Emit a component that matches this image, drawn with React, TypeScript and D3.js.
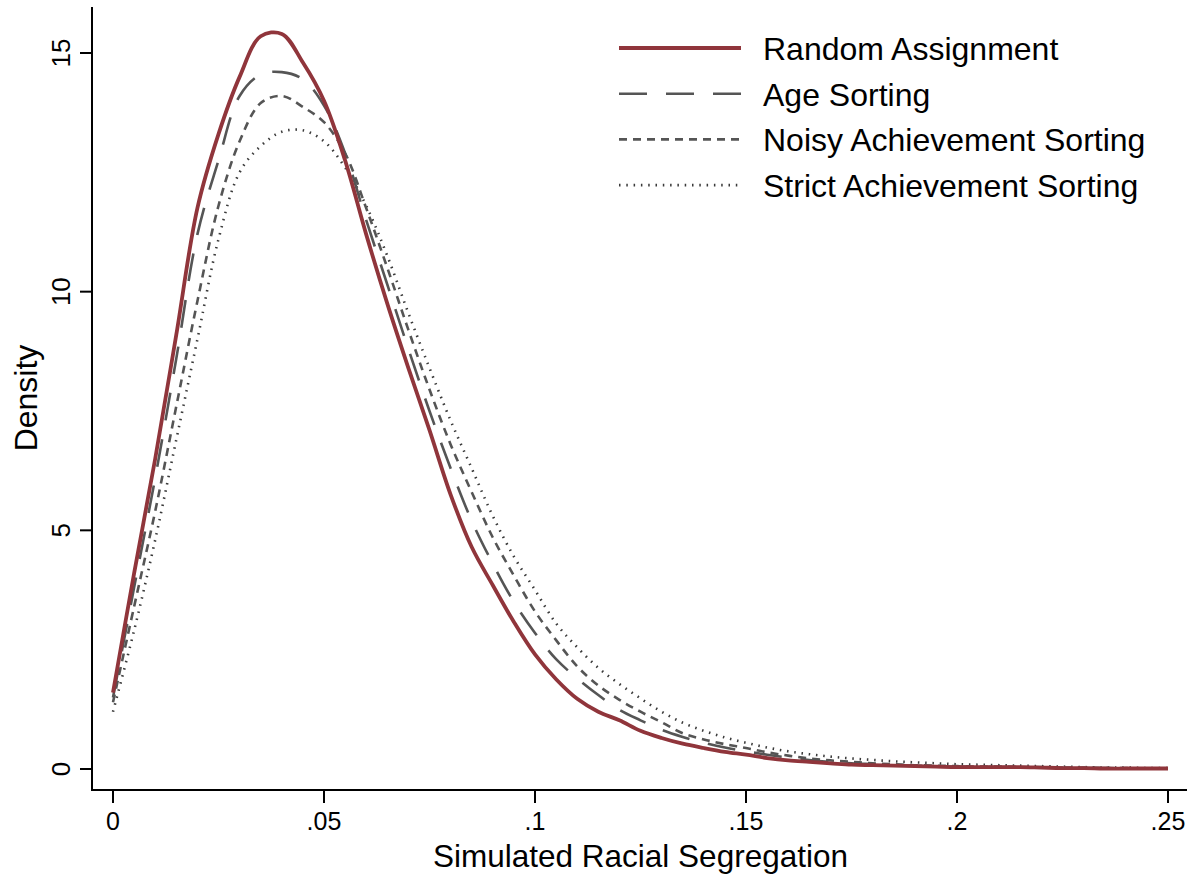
import React from 'react';
import * as d3 from 'd3';

const xs = d3.range(0, 51).map((i) => i * 0.005);

const randomAssign = [
	1.6, 4.1, 6.5, 9.1, 11.75, 13.3, 14.5, 15.35, 15.4, 14.8,
	14.0, 12.75, 11.2, 9.75, 8.4, 7.1, 5.75, 4.65, 3.85, 3.08,
	2.4, 1.88, 1.47, 1.2, 1.02, 0.8, 0.65, 0.53, 0.44, 0.36,
	0.3, 0.23, 0.18, 0.15, 0.12, 0.09, 0.08, 0.07, 0.06, 0.05,
	0.04, 0.04, 0.04, 0.04, 0.03, 0.02, 0.02, 0.01, 0.01, 0.01, 0.01
];
const ageSorting = [
	1.5, 3.8, 6.1, 8.6, 11.2, 12.75, 14.1, 14.55, 14.6, 14.45,
	13.9, 12.9, 11.5, 10.15, 8.8, 7.5, 6.3, 5.2, 4.3, 3.5,
	2.85, 2.3, 1.9, 1.55, 1.24, 1.02, 0.82, 0.67, 0.55, 0.45,
	0.37, 0.3, 0.24, 0.19, 0.15, 0.12, 0.1, 0.08, 0.07, 0.06,
	0.05, 0.05, 0.04, 0.04, 0.03, 0.03, 0.02, 0.02, 0.01, 0.01, 0.01
];
const noisySorting = [
	1.4, 3.4, 5.4, 7.6, 9.8, 11.8, 13.15, 13.95, 14.1, 13.87,
	13.55, 12.9, 11.75, 10.5, 9.2, 7.95, 6.8, 5.8, 4.85, 4.05,
	3.3, 2.7, 2.15, 1.75, 1.45, 1.2, 0.98, 0.75, 0.62, 0.52,
	0.44, 0.35, 0.28, 0.22, 0.18, 0.15, 0.12, 0.1, 0.08, 0.07,
	0.06, 0.05, 0.05, 0.04, 0.04, 0.03, 0.03, 0.02, 0.02, 0.01, 0.01
];
const strictSorting = [
	1.2, 2.9, 4.8, 6.9, 9.0, 11.1, 12.5, 13.05, 13.35, 13.38,
	13.15, 12.6, 11.8, 10.75, 9.55, 8.4, 7.3, 6.3, 5.3, 4.45,
	3.75, 3.05, 2.55, 2.12, 1.78, 1.48, 1.2, 0.97, 0.8, 0.66,
	0.55, 0.45, 0.37, 0.31, 0.26, 0.22, 0.19, 0.16, 0.14, 0.12,
	0.1, 0.09, 0.08, 0.07, 0.06, 0.05, 0.04, 0.03, 0.03, 0.02, 0.02
];

const xTicks = [0, 0.05, 0.1, 0.15, 0.2, 0.25];
const yTicks = [0, 5, 10, 15];

const series = [
	{ name: 'Random Assignment', values: randomAssign, color: '#90353b', width: 3.8, dash: null },
	{ name: 'Age Sorting', values: ageSorting, color: '#555555', width: 2.6, dash: '28 19' },
	{ name: 'Noisy Achievement Sorting', values: noisySorting, color: '#555555', width: 2.6, dash: '8 6' },
	{ name: 'Strict Achievement Sorting', values: strictSorting, color: '#3a3a3a', width: 2.6, dash: '1.5 5.8' }
];

const font = '"Liberation Sans", Arial, sans-serif';

const App = () => {
	const x = d3.scaleLinear().domain([0, 0.25]).range([113, 1168]);
	const y = d3.scaleLinear().domain([0, 15]).range([769, 53]);

	const axisX = 92, axisY = 790;

	const line = d3
		.line<number>()
		.x((d, i) => x(xs[i]))
		.y((d) => y(d))
		.curve(d3.curveCatmullRom.alpha(0.5));

	const fmt = (v: number) => (v === 0 ? '0' : String(v).replace(/^0/, ''));

	return (
		<svg
			width={1196}
			height={875}
			style={{ position: 'fixed', left: 0, top: 0, background: '#fff' }}
			fontFamily={font}
		>
			<rect width={1196} height={875} fill="#fff" />

			{/* curves, drawn back to front */}
			{series.slice().reverse().map((s) => (
				<path
					key={s.name}
					d={line(s.values) || ''}
					fill="none"
					stroke={s.color}
					strokeWidth={s.width}
					strokeDasharray={s.dash || undefined}
					strokeLinejoin="round"
				/>
			))}

			{/* axes */}
			<line x1={axisX} x2={axisX} y1={7} y2={axisY} stroke="#000" strokeWidth={2} />
			<line x1={axisX - 1} x2={1187} y1={axisY} y2={axisY} stroke="#000" strokeWidth={2} />

			{yTicks.map((t) => (
				<g key={'y' + t}>
					<line x1={80} x2={axisX} y1={y(t)} y2={y(t)} stroke="#000" strokeWidth={2} />
					<text
						transform={`translate(70,${y(t)}) rotate(-90)`}
						textAnchor="middle"
						fontSize={26}
						fill="#000"
					>
						{fmt(t)}
					</text>
				</g>
			))}

			{xTicks.map((t) => (
				<g key={'x' + t}>
					<line x1={x(t)} x2={x(t)} y1={axisY} y2={803} stroke="#000" strokeWidth={2} />
					<text x={x(t)} y={830} textAnchor="middle" fontSize={25} fill="#000">
						{fmt(t)}
					</text>
				</g>
			))}

			<text x={640.5} y={867} textAnchor="middle" fontSize={31.5} fill="#000">
				Simulated Racial Segregation
			</text>
			<text transform="translate(37,398) rotate(-90)" textAnchor="middle" fontSize={32} fill="#000">
				Density
			</text>

			{/* legend */}
			{series.map((s, i) => {
				const ly = 48 + i * 45.7;
				return (
					<g key={'lg' + s.name}>
						<line
							x1={619}
							x2={741}
							y1={ly}
							y2={ly}
							stroke={s.color}
							strokeWidth={s.width}
							strokeDasharray={s.dash || undefined}
						/>
						<text x={763} y={ly + 12} fontSize={32} fill="#000">
							{s.name}
						</text>
					</g>
				);
			})}
		</svg>
	);
};

export default App;
